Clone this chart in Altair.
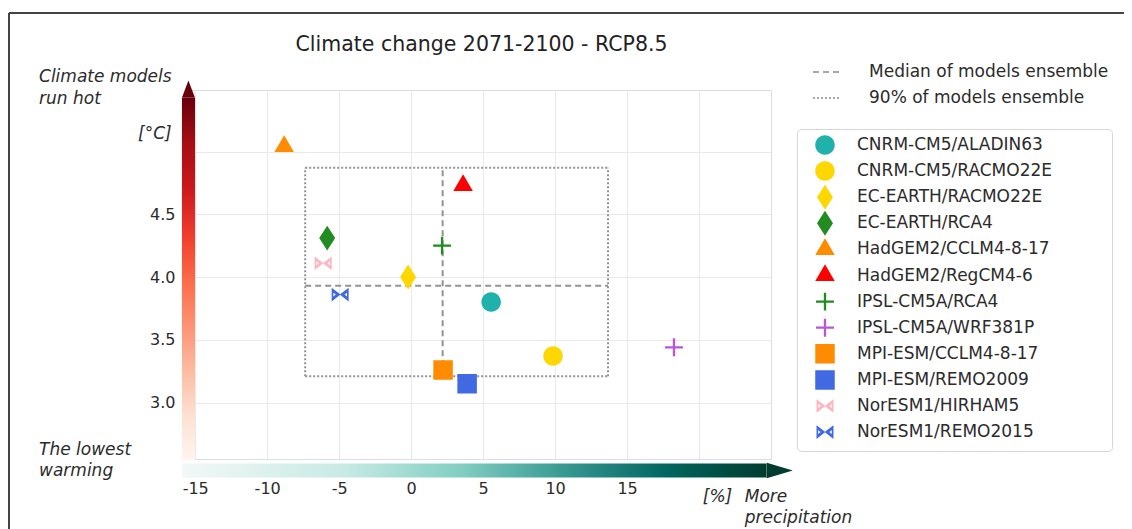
import altair as alt
import pandas as pd

# ---------------- data ----------------
models = [
    "CNRM-CM5/ALADIN63", "CNRM-CM5/RACMO22E", "EC-EARTH/RACMO22E", "EC-EARTH/RCA4",
    "HadGEM2/CCLM4-8-17", "HadGEM2/RegCM4-6", "IPSL-CM5A/RCA4", "IPSL-CM5A/WRF381P",
    "MPI-ESM/CCLM4-8-17", "MPI-ESM/REMO2009", "NorESM1/HIRHAM5", "NorESM1/REMO2015",
]
precip_change = [5.56, 9.86, -0.21, -5.83, -8.82, 3.61, 2.15, 18.26, 2.22, 3.89, -6.11, -4.93]
temp_change = [3.80, 3.37, 4.00, 4.31, 5.04, 4.73, 4.25, 3.44, 3.26, 3.15, 4.11, 3.86]
colors = ["#20b2aa", "#ffd700", "#ffd700", "#228b22", "#ff8c00", "#ff0000",
          "#228b22", "#ba55d3", "#ff8c00", "#4169e1", "#ffb6c1", "#4169e1"]

# marker outlines (unit space); the trailing zero-length sub-paths give every
# marker the same height so that legend rows are evenly spaced
EXT = "M0,-1.3L0,-1.3M0,1.3L0,1.3"
CIRCLE = "M1,0A1,1,0,1,1,-1,0A1,1,0,1,1,1,0Z" + EXT
SQUARE = "M-1,-1L1,-1L1,1L-1,1Z" + EXT
TRIANGLE = "M0,-1.155L1,0.577L-1,0.577Z" + EXT
DIAMOND = "M0,-1.28L0.82,0L0,1.28L-0.82,0Z" + EXT
PLUS = ("M-0.12,-0.92L0.12,-0.92L0.12,-0.12L0.92,-0.12L0.92,0.12L0.12,0.12L0.12,0.92"
        "L-0.12,0.92L-0.12,0.12L-0.92,0.12L-0.92,-0.12L-0.12,-0.12Z" + EXT)
BOWTIE = ("M-0.87,-0.7L0.04,0L-0.87,0.7ZM-0.7,-0.2L-0.7,0.2L-0.45,0Z"
          "M0.87,-0.7L-0.04,0L0.87,0.7ZM0.7,-0.2L0.7,0.2L0.45,0Z" + EXT)
shapes = [CIRCLE, CIRCLE, DIAMOND, DIAMOND, TRIANGLE, TRIANGLE,
          PLUS, PLUS, SQUARE, SQUARE, BOWTIE, BOWTIE]

median_precip = 2.19
median_temp = 3.93
box_precip = [-7.36, 13.68]   # 90 % of models ensemble
box_temp = [3.21, 4.87]

x_ticks = [-15, -10, -5, 0, 5, 10, 15, 20]
y_ticks = [3.0, 3.5, 4.0, 4.5, 5.0]

MEDIAN_LBL = "Median of models ensemble"
BOX_LBL = "90% of models ensemble"

# axis arrows (extent in data units)
red_arrow = dict(x=-15.92, x2=-15.01, y=2.538, y2=5.43, head_x=-15.47, head_y=5.498)
teal_arrow = dict(x=-15.92, x2=24.69, y=2.402, y2=2.514, head_x=25.61, head_y=2.458)

annotations = pd.DataFrame({
    "text": ["Climate models", "run hot", "The lowest", "warming", "[°C]",
             "[%]", "More", "precipitation"],
    "x": [-25.85, -25.85, -25.85, -25.85, -18.97, 20.26, 23.18, 23.18],
    "y": [5.590, 5.422, 2.625, 2.458, 5.143, 2.251, 2.251, 2.076],
})

FONT = "DejaVu Sans"
TXT = "#2b2b2b"

df = pd.DataFrame({"model": models, "precip": precip_change, "temp": temp_change})

xs = alt.Scale(domain=[-15.5, 25], nice=False, zero=False)
ys = alt.Scale(domain=[2.55, 5.49], nice=False, zero=False)

base_x_axis = alt.Axis(values=x_ticks,
                       labelExpr="datum.value > 17 ? '' : toString(datum.value)",
                       grid=True, gridColor="#e9e9e9", gridWidth=1, domain=False, ticks=False,
                       tickSize=0, labelPadding=21, labelFontSize=16, labelColor=TXT,
                       labelFont=FONT, title=None)
base_y_axis = alt.Axis(values=y_ticks, format=".1f",
                       labelExpr="datum.value > 4.9 ? '' : datum.label",
                       grid=True, gridColor="#e9e9e9", gridWidth=1, domain=False, ticks=False,
                       tickSize=0, labelPadding=13, labelFontSize=16, labelColor=TXT,
                       labelFont=FONT, title=None)

# grid carrier (invisible)
grid = alt.Chart(df).mark_point(opacity=0).encode(
    x=alt.X("precip:Q", scale=xs, axis=base_x_axis),
    y=alt.Y("temp:Q", scale=ys, axis=base_y_axis),
)

# median lines and the 90 % box, both drawn as rules
guide_df = pd.DataFrame({
    "x":  [box_precip[0], median_precip, box_precip[0], box_precip[0], box_precip[0], box_precip[1]],
    "x2": [box_precip[1], median_precip, box_precip[1], box_precip[1], box_precip[0], box_precip[1]],
    "y":  [median_temp, box_temp[0], box_temp[0], box_temp[1], box_temp[0], box_temp[0]],
    "y2": [median_temp, box_temp[1], box_temp[0], box_temp[1], box_temp[1], box_temp[1]],
    "kind": [MEDIAN_LBL, MEDIAN_LBL, BOX_LBL, BOX_LBL, BOX_LBL, BOX_LBL],
})
guides = alt.Chart(guide_df).mark_rule(strokeWidth=2, color="#939393").encode(
    x=alt.X("x:Q", scale=xs), x2="x2:Q", y=alt.Y("y:Q", scale=ys), y2="y2:Q",
    strokeDash=alt.StrokeDash(
        "kind:N", scale=alt.Scale(domain=[MEDIAN_LBL, BOX_LBL], range=[[6, 4], [2, 2]]),
        legend=alt.Legend(orient="none", legendX=609, legendY=-38, title=None, padding=6,
                          rowPadding=4, labelFont=FONT, labelFontSize=17, labelColor=TXT,
                          labelLimit=400, symbolType="stroke", symbolStrokeColor="#8c8c8c",
                          symbolStrokeWidth=1.5, symbolSize=676, symbolOffset=9,
                          labelOffset=29)),
)

model_legend = alt.Legend(
    orient="none", legendX=609, legendY=39, title="\u00a0", titleOrient="right",
    titleFontSize=40, titlePadding=54, padding=6,
    strokeColor="#d6d6d6", fillColor="white", cornerRadius=4,
    symbolSize=380, symbolStrokeWidth=0, symbolOffset=12, labelOffset=22,
    rowPadding=0.1, labelFont=FONT, labelFontSize=17, labelColor=TXT, labelLimit=400,
)

points = alt.Chart(df).mark_point(filled=True, size=380, opacity=1, strokeWidth=0).encode(
    x=alt.X("precip:Q", scale=xs),
    y=alt.Y("temp:Q", scale=ys),
    color=alt.Color("model:N", scale=alt.Scale(domain=models, range=colors), legend=model_legend),
    shape=alt.Shape("model:N", scale=alt.Scale(domain=models, range=shapes), legend=model_legend),
)

# gradient axis arrows
reds = ["#fff5f0", "#fee0d2", "#fcbba1", "#fc9272", "#fb6a4a", "#ef3b2c", "#cb181d", "#a50f15", "#67000d"]
teals = ["#f2f8f7", "#c7eae5", "#80cdc1", "#35978f", "#01665e", "#003c30"]

red_grad = alt.Gradient(gradient="linear", x1=0, x2=0, y1=1, y2=0,
                        stops=[alt.GradientStop(offset=i / (len(reds) - 1), color=c) for i, c in enumerate(reds)])
teal_grad = alt.Gradient(gradient="linear", x1=0, x2=1, y1=0, y2=0,
                         stops=[alt.GradientStop(offset=o, color=c) for o, c in
                                zip([0, 0.28, 0.48, 0.66, 0.83, 1], teals)])

red_df = pd.DataFrame([red_arrow])
teal_df = pd.DataFrame([teal_arrow])
red_shaft = alt.Chart(red_df).mark_rect(fill=red_grad).encode(
    x=alt.X("x:Q", scale=xs), x2="x2:Q", y=alt.Y("y:Q", scale=ys), y2="y2:Q")
teal_shaft = alt.Chart(teal_df).mark_rect(fill=teal_grad).encode(
    x=alt.X("x:Q", scale=xs), x2="x2:Q", y=alt.Y("y:Q", scale=ys), y2="y2:Q")
red_head = alt.Chart(red_df).mark_point(
    shape="M0,-1L0.76,1L-0.76,1Z", size=289, filled=True, color="#67000d", opacity=1, strokeWidth=0
).encode(x=alt.X("head_x:Q", scale=xs), y=alt.Y("head_y:Q", scale=ys))
teal_head = alt.Chart(teal_df).mark_point(
    shape="M1,0L-1,-0.6L-1,0.6Z", size=676, filled=True, color="#003c30", opacity=1, strokeWidth=0
).encode(x=alt.X("head_x:Q", scale=xs), y=alt.Y("head_y:Q", scale=ys))

notes = alt.Chart(annotations).mark_text(
    align="left", baseline="middle", font=FONT, fontSize=17, fontStyle="italic", color=TXT
).encode(x=alt.X("x:Q", scale=xs), y=alt.Y("y:Q", scale=ys), text="text:N")

# thin frame of the figure
frame_df = pd.DataFrame({"a": [0]})
frame_top = alt.Chart(frame_df).mark_rule(color="#444444", strokeWidth=2).encode(
    x=alt.value(-179), x2=alt.value(960), y=alt.value(-77))
frame_left = alt.Chart(frame_df).mark_rule(color="#444444", strokeWidth=2).encode(
    x=alt.value(-179), y=alt.value(-77), y2=alt.value(450))

chart = alt.layer(
    grid, guides, points, red_shaft, teal_shaft, red_head, teal_head, notes,
    frame_top, frame_left,
).properties(
    width=583, height=369,
    padding={"left": 180, "top": 82, "right": 353, "bottom": 70},
    autosize=alt.AutoSizeParams(type="none"),
    title=alt.TitleParams("Climate change 2071-2100 - RCP8.5", font=FONT, fontSize=20.5,
                          fontWeight="normal", color="#222222", anchor="middle",
                          baseline="alphabetic", offset=-59, dx=2),
).configure_view(stroke=None).configure(font=FONT)

chart.save("out.html", embed_options={"renderer": "svg", "actions": False})
